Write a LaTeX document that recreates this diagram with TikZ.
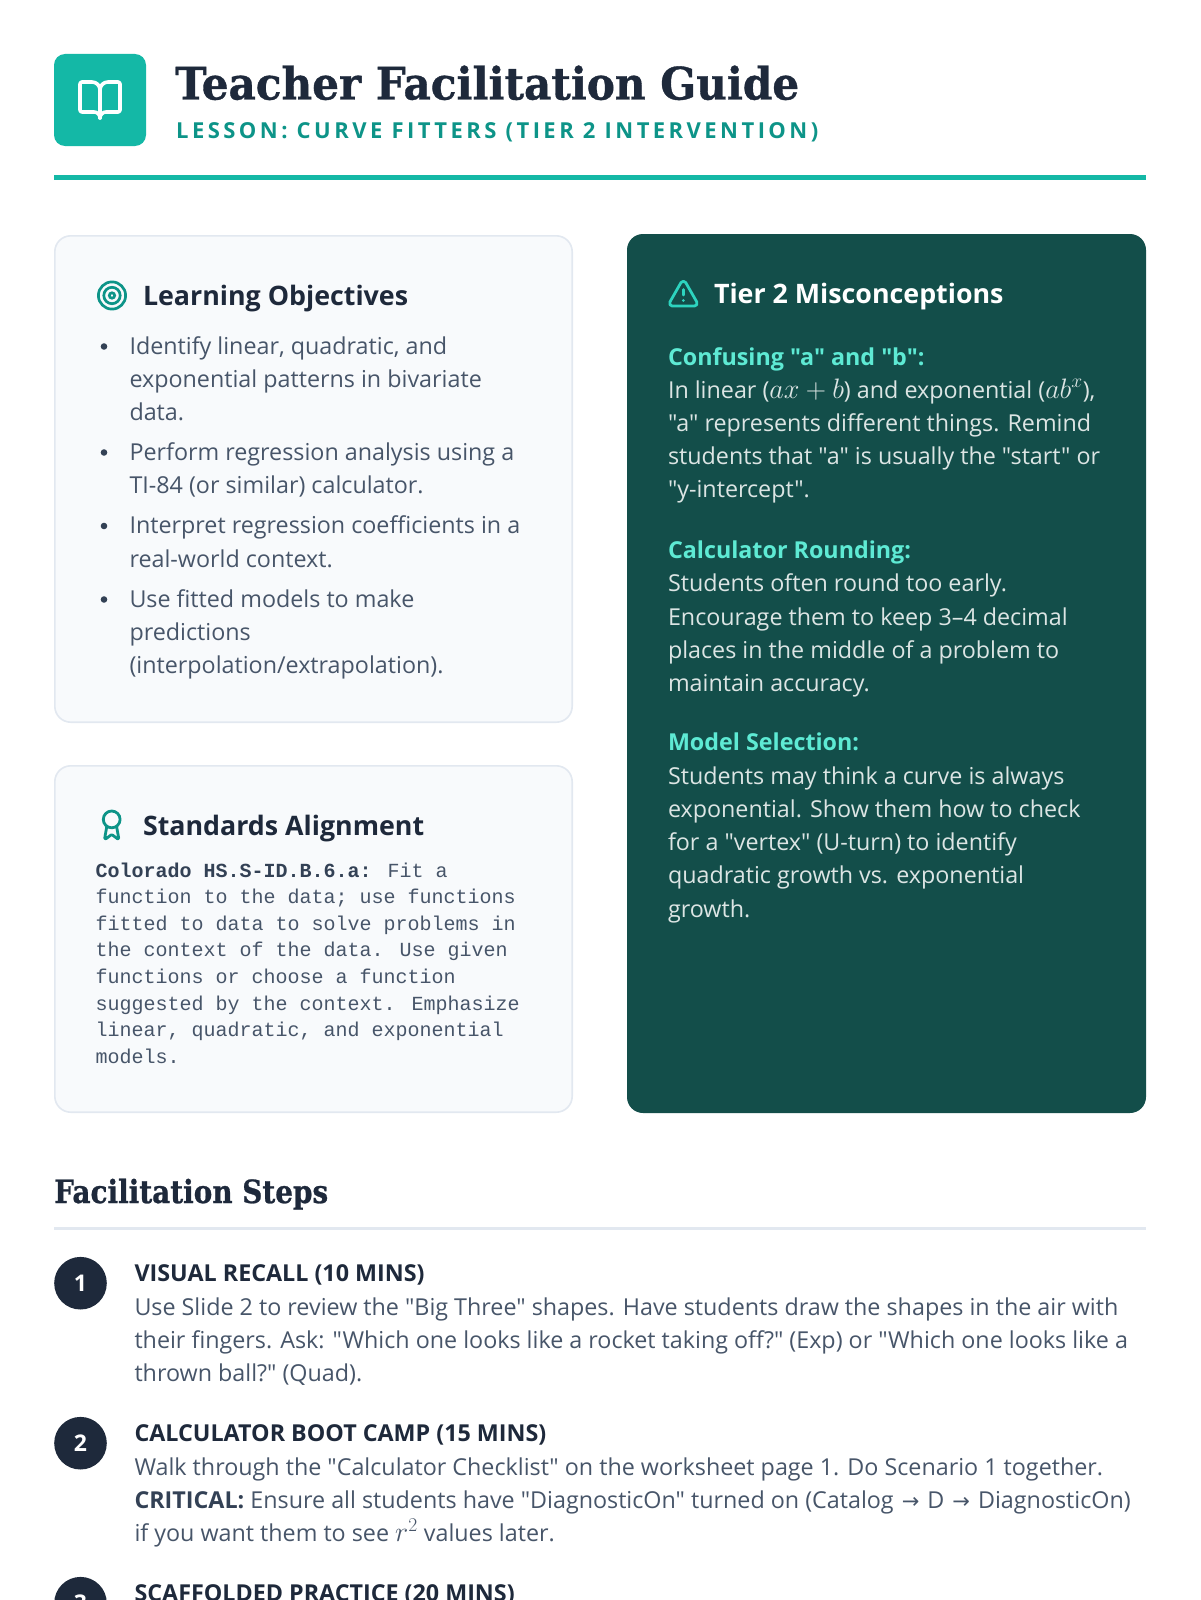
\documentclass[tikz,border=0pt]{standalone}
\usepackage[no-math]{fontspec}
\usepackage{graphicx}
\newfontfamily\fOpen{Open Sans}
\newfontfamily\fMono{Liberation Mono}
\newfontfamily\fSlab[FakeBold=0.8]{DejaVu Serif Bold}
\newfontfamily\fSub[LetterSpace=15.7]{Open Sans}
\newfontfamily\fArrow{DejaVu Sans}
\newcommand{\km}[1]{\scalebox{1.13}{$#1$}}
\newcommand{\arr}{{\hspace{2pt}\fArrow\fontsize{21}{24}\selectfont →\hspace{2pt}}}
\definecolor{ink}{HTML}{1E293B}
\definecolor{slatetxt}{HTML}{475569}
\definecolor{slatedark}{HTML}{334155}
\definecolor{tealA}{HTML}{14B8A6}
\definecolor{tealB}{HTML}{0D9488}
\definecolor{cardbg}{HTML}{F8FAFC}
\definecolor{cardline}{HTML}{E2E8F0}
\definecolor{deepteal}{HTML}{134E4A}
\definecolor{mint}{HTML}{5EEAD4}
\definecolor{mintline}{HTML}{2DD4BF}
\definecolor{paletxt}{HTML}{DCE5E4}
\begin{document}
\begin{tikzpicture}[x=1pt,y=-1pt,
  body/.style={anchor=base west, inner sep=0pt, outer sep=0pt, text=slatetxt, font={\fOpen\fontsize{23.3}{28}\selectfont}},
  pale/.style={body, text=paletxt},
  minthead/.style={body, text=mint, font={\fOpen\bfseries\fontsize{23.3}{28}\selectfont}},
  cardhead/.style={anchor=base west, inner sep=0pt, outer sep=0pt, text=ink, font={\fOpen\bfseries\fontsize{26.8}{32}\selectfont}},
  stephead/.style={body, text=ink, font={\fOpen\bfseries\fontsize{23.3}{28}\selectfont}},
  mono/.style={anchor=base west, inner sep=0pt, outer sep=0pt, text=slatetxt, font={\fMono\fontsize{20}{26}\selectfont}},
  num/.style={inner sep=0pt, text=white, font={\fOpen\bfseries\fontsize{23}{28}\selectfont}},
  card/.style={fill=cardbg, draw=cardline, line width=1.6pt, rounded corners=16pt},
  dot/.style={fill=slatedark}
]
\useasboundingbox (0,0) rectangle (1200,1600);
\clip (0,0) rectangle (1200,1600);
\fill[white] (0,0) rectangle (1200,1600);

% ---------- header ----------
\fill[tealA, rounded corners=11pt] (54,54) rectangle (146,146);
\begin{scope}[shift={(76,76)}, x=2pt, y=-2pt, white, line width=3.6pt, line cap=round, line join=round]
  \draw (12,7) -- (12,21);
  \draw (3,18) .. controls (2.45,18) and (2,17.55) .. (2,17) -- (2,4)
    .. controls (2,3.45) and (2.45,3) .. (3,3) -- (8,3)
    .. controls (10.21,3) and (12,4.79) .. (12,7)
    .. controls (12,4.79) and (13.79,3) .. (16,3) -- (21,3)
    .. controls (21.55,3) and (22,3.45) .. (22,4) -- (22,17)
    .. controls (22,17.55) and (21.55,18) .. (21,18) -- (15,18)
    .. controls (13.34,18) and (12,19.34) .. (12,21)
    .. controls (12,19.34) and (10.66,18) .. (9,18) -- cycle;
\end{scope}
\node[anchor=base west, inner sep=0pt, text=ink] (title) at (175,99.5)
  {\resizebox{624pt}{34pt}{\fSlab\fontsize{44}{52}\selectfont Teacher Facilitation Guide}};
\node[anchor=base west, inner sep=0pt, text=tealB, font={\fSub\bfseries\fontsize{22}{26}\selectfont}] (subtitle) at (176,138.5)
  {LESSON: CURVE FITTERS (TIER 2 INTERVENTION)};
\fill[tealA] (54,174.5) rectangle (1146,179.5);

% ---------- learning objectives card ----------
\draw[card] (54.8,235.8) rectangle (572.2,722.2);
\draw[tealB, line width=2.7pt] (112,295.5) circle[radius=13.6pt];
\draw[tealB, line width=2.7pt] (112,295.5) circle[radius=8.2pt];
\draw[tealB, line width=2.7pt] (112,295.5) circle[radius=2.7pt];
\node[cardhead] (lohead) at (143,305) {Learning Objectives};

\fill[dot] (104,346.5) circle[radius=3.3pt];
\fill[dot] (104,452.5) circle[radius=3.3pt];
\fill[dot] (104,526) circle[radius=3.3pt];
\fill[dot] (104,599.5) circle[radius=3.3pt];
\node[body] (lo1a) at (129.5,354) {Identify linear, quadratic, and};
\node[body] (lo1b) at (129.5,387) {exponential patterns in bivariate};
\node[body] (lo1c) at (129.5,420) {data.};
\node[body] (lo2a) at (129.5,460) {Perform regression analysis using a};
\node[body] (lo2b) at (129.5,493.5) {TI-84 (or similar) calculator.};
\node[body] (lo3a) at (129.5,533.5) {Interpret regression coefficients in a};
\node[body] (lo3b) at (129.5,567) {real-world context.};
\node[body] (lo4a) at (129.5,607) {Use fitted models to make};
\node[body] (lo4b) at (129.5,640) {predictions};
\node[body] (lo4c) at (129.5,673) {(interpolation/extrapolation).};

% ---------- standards card ----------
\draw[card] (54.8,765.8) rectangle (572.2,1112.2);
\begin{scope}[shift={(94.9,808.2)}, x=1.4pt, y=-1.4pt, tealB, line width=2.8pt, line cap=round, line join=round]
  \draw (12,8) circle[radius=8.4pt];
  \draw (15.477,12.89) -- (16.992,21.416) -- (16.182,21.886) -- (12.602,19.199) -- (11.405,19.199) -- (7.819,21.885) -- (7.009,21.416) -- (8.523,12.89);
\end{scope}
\node[cardhead] (sahead) at (143,835) {Standards Alignment};
\node[mono] (sa1) at (95.6,877) {{\bfseries\color{slatedark}Colorado HS.S-ID.B.6.a:} Fit a};
\node[mono] (sa2) at (95.6,903.6) {function to the data; use functions};
\node[mono] (sa3) at (95.6,930.2) {fitted to data to solve problems in};
\node[mono] (sa4) at (95.6,956.8) {the context of the data. Use given};
\node[mono] (sa5) at (95.6,983.4) {functions or choose a function};
\node[mono] (sa6) at (95.6,1010) {suggested by the context. Emphasize};
\node[mono] (sa7) at (95.6,1036.6) {linear, quadratic, and exponential};
\node[mono] (sa8) at (95.6,1063.2) {models.};

% ---------- misconceptions card ----------
\fill[deepteal, rounded corners=16pt] (627,234) rectangle (1146,1113);
\begin{scope}[shift={(666.8,277.1)}, x=1.38pt, y=-1.38pt, mintline, line width=2.76pt, line cap=round, line join=round]
  \draw (21.73,18) -- (13.73,4) .. controls (12.96,2.66) and (11.02,2.66) .. (10.25,4) -- (2.25,18)
    .. controls (1.48,19.33) and (2.46,21) .. (4,21) -- (20,21)
    .. controls (21.54,21) and (22.5,19.33) .. (21.73,18) -- cycle;
  \draw (12,9) -- (12,13);
  \draw (12,17) -- (12.01,17);
\end{scope}
\node[cardhead, text=white] (mchead) at (714,303.5) {Tier 2 Misconceptions};

\node[minthead] (m1h) at (668,365) {Confusing "a" and "b":};
\node[pale] (m1a) at (668,398) {In linear (\km{ax+b}) and exponential (\km{ab^x}),};
\node[pale] (m1b) at (668,431) {"a" represents different things. Remind};
\node[pale] (m1c) at (668,464) {students that "a" is usually the "start" or};
\node[pale] (m1d) at (668,497) {"y-intercept".};

\node[minthead] (m2h) at (668,558.5) {Calculator Rounding:};
\node[pale] (m2a) at (668,591.7) {Students often round too early.};
\node[pale] (m2b) at (668,625) {Encourage them to keep 3–4 decimal};
\node[pale] (m2c) at (668,658.3) {places in the middle of a problem to};
\node[pale] (m2d) at (668,691.6) {maintain accuracy.};

\node[minthead] (m3h) at (668,750.5) {Model Selection:};
\node[pale] (m3a) at (668,784) {Students may think a curve is always};
\node[pale] (m3b) at (668,817.3) {exponential. Show them how to check};
\node[pale] (m3c) at (668,850.6) {for a "vertex" (U-turn) to identify};
\node[pale] (m3d) at (668,883.9) {quadratic growth vs. exponential};
\node[pale] (m3e) at (668,917.2) {growth.};

% ---------- facilitation steps ----------
\node[anchor=base west, inner sep=0pt, text=ink] (fshead) at (54,1203)
  {\resizebox{274pt}{24.3pt}{\fSlab\fontsize{32}{38}\selectfont Facilitation Steps}};
\fill[cardline] (54,1227.2) rectangle (1146,1229.8);

\fill[ink] (80.5,1283.2) circle[radius=26.3pt];
\node[num] (n1) at (80.5,1283.2) {1};
\node[stephead] (s1h) at (134.5,1281.7) {VISUAL RECALL (10 MINS)};
\node[body] (s1a) at (134.5,1315) {Use Slide 2 to review the "Big Three" shapes. Have students draw the shapes in the air with};
\node[body] (s1b) at (134.5,1348.3) {their fingers. Ask: "Which one looks like a rocket taking off?" (Exp) or "Which one looks like a};
\node[body] (s1c) at (134.5,1381.6) {thrown ball?" (Quad).};

\fill[ink] (80.5,1443.2) circle[radius=26.3pt];
\node[num] (n2) at (80.5,1443.2) {2};
\node[stephead] (s2h) at (134.5,1441.7) {CALCULATOR BOOT CAMP (15 MINS)};
\node[body] (s2a) at (134.5,1475) {Walk through the "Calculator Checklist" on the worksheet page 1. Do Scenario 1 together.};
\node[body] (s2b) at (134.5,1508.3) {{\bfseries\color{slatedark}CRITICAL:} Ensure all students have "DiagnosticOn" turned on (Catalog \arr{} D \arr{} DiagnosticOn)};
\node[body] (s2c) at (134.5,1541.6) {if you want them to see \km{r^2} values later.};

\fill[ink] (80.5,1603.2) circle[radius=26.3pt];
\node[num] (n3) at (80.5,1603.2) {3};
\node[stephead] (s3h) at (134.5,1601.7) {SCAFFOLDED PRACTICE (20 MINS)};
\end{tikzpicture}
\end{document}
